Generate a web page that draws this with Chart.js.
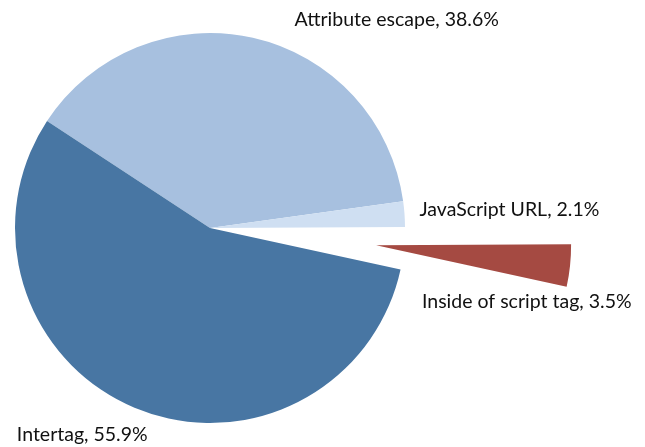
<!DOCTYPE html>
<html>
<head>
<meta charset="utf-8">
<script src="https://cdn.jsdelivr.net/npm/chart.js@4"></script>
<style>
  html, body { margin: 0; padding: 0; background: #fff; }
  #wrap { width: 645px; height: 447px; }
</style>
</head>
<body>
<div id="wrap"><canvas id="pie"></canvas></div>
<script>
// Data
const categories = ['Attribute escape', 'JavaScript URL', 'Inside of script tag', 'Intertag'];
const shares = [38.6, 2.1, 3.5, 55.9];
const sliceColors = ['#a7c0df', '#cfdff2', '#a54a42', '#4876a3'];
const explode = [0, 0, 167, 0];   // px pulled out along the slice's middle

// label placement tweaks: [align, dx, dy]
const labelNudge = [
    ['left', 39, -6],
    ['left', 3, -3],
    ['left', -160, 35],
    ['left', -113, 16]
];

// v4's own `offset` also grows the radius, so move the slice by hand instead
const explodeSlices = {
    id: 'explodeSlices',
    afterUpdate(chart) {
        const meta = chart.getDatasetMeta(0);
        meta.data.forEach((arc, i) => {
            const d = explode[i];
            if (!d) return;
            arc.draw = function(ctx) {
                const mid = (this.startAngle + this.endAngle) / 2;
                ctx.save();
                ctx.translate(Math.cos(mid) * d, Math.sin(mid) * d);
                Chart.ArcElement.prototype.draw.call(this, ctx);
                ctx.restore();
            };
        });
    }
};

const outsideLabels = {
    id: 'outsideLabels',
    afterDatasetsDraw(chart) {
        const ctx = chart.ctx;
        const meta = chart.getDatasetMeta(0);
        ctx.save();
        ctx.font = '19.5px Lato';
        ctx.fillStyle = '#111';
        ctx.textBaseline = 'middle';
        meta.data.forEach((arc, i) => {
            const p = arc.getProps(['x', 'y', 'startAngle', 'endAngle', 'outerRadius'], true);
            const mid = (p.startAngle + p.endAngle) / 2;
            const cx = p.x + Math.cos(mid) * explode[i];
            const cy = p.y + Math.sin(mid) * explode[i];
            const r = p.outerRadius + 12;
            const [align, dx, dy] = labelNudge[i];
            ctx.textAlign = align;
            ctx.fillText(categories[i] + ', ' + shares[i].toFixed(1) + '%',
                cx + Math.cos(mid) * r + dx, cy + Math.sin(mid) * r + dy);
        });
        ctx.restore();
    }
};

new Chart(document.getElementById('pie'), {
    type: 'pie',
    data: {
        labels: categories,
        datasets: [{
            data: shares,
            backgroundColor: sliceColors,
            borderWidth: 0
        }]
    },
    options: {
        responsive: true,
        maintainAspectRatio: false,
        animation: false,
        rotation: 303.3,
        radius: 195,
        layout: { padding: { left: 0, right: 225, top: 9, bottom: 0 } },
        plugins: {
            legend: { display: false },
            tooltip: { enabled: false }
        }
    },
    plugins: [explodeSlices, outsideLabels]
});
</script>
</body>
</html>
